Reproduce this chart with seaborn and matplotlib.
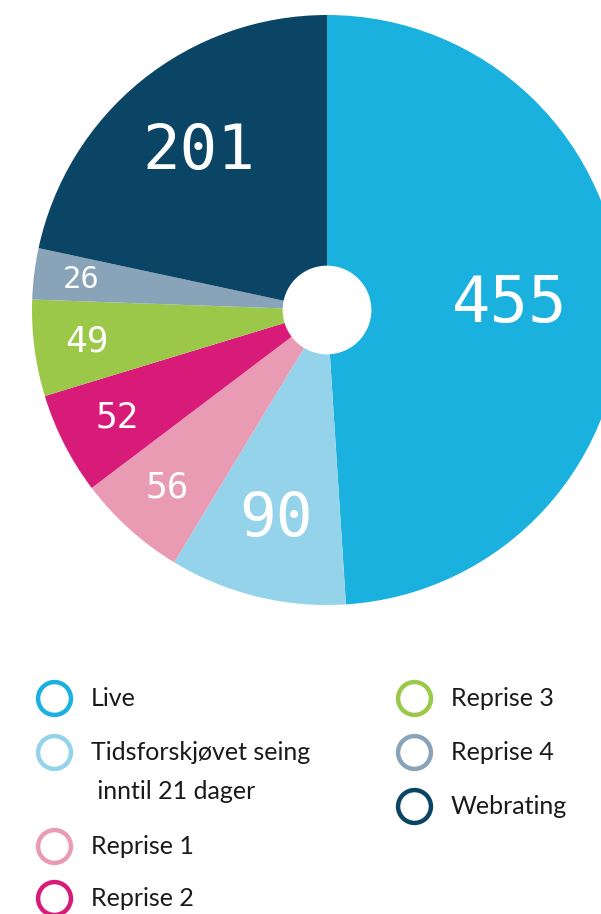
import matplotlib
matplotlib.use("Agg")
import matplotlib.pyplot as plt
import numpy as np
import seaborn as sns

# Viewing categories and their counts
categories = ["Live", "Tidsforskjøvet seing\n inntil 21 dager", "Reprise 1",
              "Reprise 2", "Reprise 3", "Reprise 4", "Webrating"]
values = [455, 90, 56, 52, 49, 26, 201]
colors = ["#1bb1df", "#95d3eb", "#e99bb4", "#d81b78", "#9cc84a", "#89a3b9", "#0b4566"]

# label placement (fraction of radius) and label size per slice
label_radius = [0.62, 0.73, 0.81, 0.80, 0.82, 0.84, 0.69]
label_size = [46, 44, 26, 26, 26, 22, 45]

sns.set_theme(style="white")
plt.rcParams["font.family"] = ["Lato", "DejaVu Sans"]

W, H = 601, 914
fig = plt.figure(figsize=(W / 100, H / 100), dpi=100)
fig.patch.set_facecolor("white")

cx, cy, R = 327, 310, 295
ax = fig.add_axes([(cx - R) / W, (H - cy - R) / H, 2 * R / W, 2 * R / H])
ax.set_facecolor("none")
wedges, _ = ax.pie(values, colors=colors, startangle=90, counterclock=False,
                   radius=1.0, wedgeprops=dict(linewidth=0))
ax.add_patch(plt.Circle((0, 0), 0.148, color="white", zorder=5))

total = sum(values)
cum = 0
for v, r, fs in zip(values, label_radius, label_size):
    mid = (cum + v / 2) / total
    ang = np.deg2rad(90 - 360 * mid)
    ax.text(r * np.cos(ang), r * np.sin(ang), str(v), ha="center", va="center",
            color="white", fontsize=fs, family="DejaVu Sans Mono", zorder=6)
    cum += v
ax.set_xlim(-1, 1)
ax.set_ylim(-1, 1)
ax.set_aspect("equal")
ax.axis("off")

# legend drawn in its own pixel-space axes
lax = fig.add_axes([0, 0, 1, 1])
lax.set_xlim(0, W)
lax.set_ylim(H, 0)
lax.axis("off")
legend_pos = [(54, 698), (54, 752), (54, 846), (54, 898),
              (414, 698), (414, 752), (414, 806)]
for name, col, (x, y) in zip(categories, colors, legend_pos):
    lax.scatter([x], [y], s=560, facecolors="white", edgecolors=col, linewidths=3.2, zorder=3)
    ty = y + 1 if "\n" not in name else y + 20
    lax.text(x + 37, ty, name, ha="left", va="center",
             fontsize=18, color="#1a1a1a", linespacing=1.8)

fig.savefig("out.png", dpi=100, facecolor="white")
